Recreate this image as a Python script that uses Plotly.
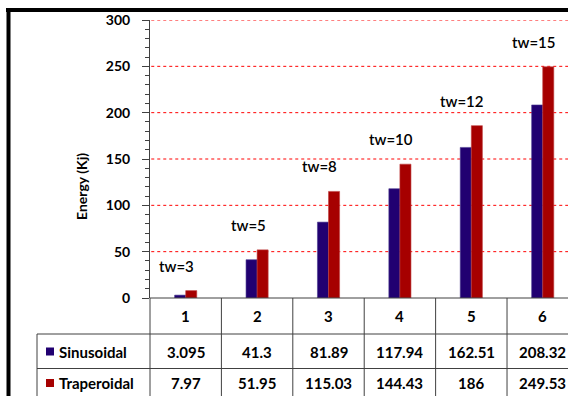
import plotly.graph_objects as go

# data
cases = ["1", "2", "3", "4", "5", "6"]
tw_labels = ["tw=3", "tw=5", "tw=8", "tw=10", "tw=12", "tw=15"]
sinusoidal = [3.095, 41.3, 81.89, 117.94, 162.51, 208.32]
traperoidal = [7.97, 51.95, 115.03, 144.43, 186, 249.53]
series_names = ["Sinusoidal", "Traperoidal"]
y_ticks = [0, 50, 100, 150, 200, 250, 300]

W, H = 568, 396
L, T, B = 150, 20, 98
X0, X1 = -0.5, 5.354
FONT = "Lato"
BLUE = "#210071"
RED = "#A60000"
LINE = "#404040"

plot_w = W - L
plot_h = H - T - B


def px2x(px):
    return (px - L) / plot_w


def py2y(py):
    return (H - B - py) / plot_h


def cat2x(c):
    return (c - X0) / (X1 - X0)


def label(x, y, text, size=15, weight="bold", **kw):
    d = dict(x=x, y=y, xref="paper", yref="paper", text=text, showarrow=False,
             xanchor="center", yanchor="middle",
             font=dict(family=FONT, size=size, color="black", weight=weight))
    d.update(kw)
    return d


xs = list(range(len(cases)))

fig = go.Figure()
fig.add_trace(go.Bar(x=xs, y=sinusoidal, name=series_names[0],
                     marker=dict(color=BLUE, line=dict(color="#4a3a90", width=0.6))))
fig.add_trace(go.Bar(x=xs, y=traperoidal, name=series_names[1],
                     marker=dict(color=RED, line=dict(color="#c04040", width=0.6))))

fig.update_layout(
    width=W, height=H,
    margin=dict(l=L, r=0, t=T, b=B),
    paper_bgcolor="white", plot_bgcolor="white",
    barmode="group", bargap=0.69, bargroupgap=0,
    showlegend=False,
    font=dict(family=FONT, color="black"),
)
fig.update_xaxes(range=[X0, X1], showticklabels=False, showgrid=False,
                 zeroline=False, showline=False, ticks="")
fig.update_yaxes(range=[0, 300], tickvals=y_ticks, showgrid=False, zeroline=False,
                 showline=True, linecolor=LINE, linewidth=1,
                 ticks="outside", ticklen=7, tickcolor=LINE,
                 ticklabelstandoff=9,
                 tickfont=dict(family=FONT, size=14, color="black", weight="bold"),
                 minor=dict(dtick=10, ticks="outside", ticklen=4, tickcolor=LINE,
                            showgrid=False))

shapes = []
ann = []

# red dotted gridlines
for v in y_ticks[1:]:
    shapes.append(dict(type="line", xref="paper", yref="y", x0=0.003, x1=1.0,
                       y0=v, y1=v, layer="below",
                       line=dict(color="#FF0000", width=1, dash="dot")))

# labels above bars
for i, lab in enumerate(tw_labels):
    ann.append(dict(x=xs[i], y=max(sinusoidal[i], traperoidal[i]), xref="x", yref="y",
                    text=lab, showarrow=False, xshift=-9, yshift=25,
                    xanchor="center", yanchor="middle",
                    font=dict(family=FONT, size=15, color="black", weight=600)))

# y title
ann.append(label(px2x(81), py2y(187), "Energy (Kj)", size=14, textangle=-90))

# data table
row_lines = [334, 368.5]
for py in row_lines:
    shapes.append(dict(type="line", xref="paper", yref="paper",
                       x0=px2x(37), x1=1.0, y0=py2y(py), y1=py2y(py),
                       line=dict(color=LINE, width=1)))
shapes.append(dict(type="line", xref="paper", yref="paper",
                   x0=px2x(37), x1=px2x(37), y0=py2y(row_lines[0]), y1=py2y(H + 2),
                   line=dict(color=LINE, width=1)))
shapes.append(dict(type="line", xref="paper", yref="paper",
                   x0=0, x1=1.0, y0=0, y1=0, line=dict(color=LINE, width=1)))
for k in range(len(cases)):
    xb = cat2x(k - 0.5)
    shapes.append(dict(type="line", xref="paper", yref="paper",
                       x0=xb, x1=xb, y0=0, y1=py2y(H + 2),
                       line=dict(color=LINE, width=1)))

row_centers = [316, 351.5, 383]
for i, c in enumerate(cases):
    ann.append(label(cat2x(xs[i]), py2y(row_centers[0]), c))
    for r, vals in enumerate([sinusoidal, traperoidal]):
        ann.append(label(cat2x(xs[i]), py2y(row_centers[r + 1]), f"{vals[i]:g}"))

for r, (name, col) in enumerate(zip(series_names, [BLUE, RED])):
    yc = row_centers[r + 1]
    shapes.append(dict(type="rect", xref="paper", yref="paper",
                       x0=px2x(46), x1=px2x(54), y0=py2y(yc - 4), y1=py2y(yc + 4),
                       fillcolor=col, line=dict(width=0)))
    ann.append(label(px2x(57), py2y(yc), name, xanchor="left"))

# outer chart border (cropped)
shapes.append(dict(type="line", xref="paper", yref="paper",
                   x0=px2x(6), x1=px2x(W + 5), y0=py2y(10), y1=py2y(10),
                   line=dict(color="black", width=4)))
shapes.append(dict(type="line", xref="paper", yref="paper",
                   x0=px2x(8.5), x1=px2x(8.5), y0=py2y(8), y1=py2y(H + 5),
                   line=dict(color="black", width=4)))

fig.update_layout(shapes=shapes, annotations=ann)
fig.write_html("out.html", config={"displayModeBar": False},
               post_script="document.body.style.margin='0';")
